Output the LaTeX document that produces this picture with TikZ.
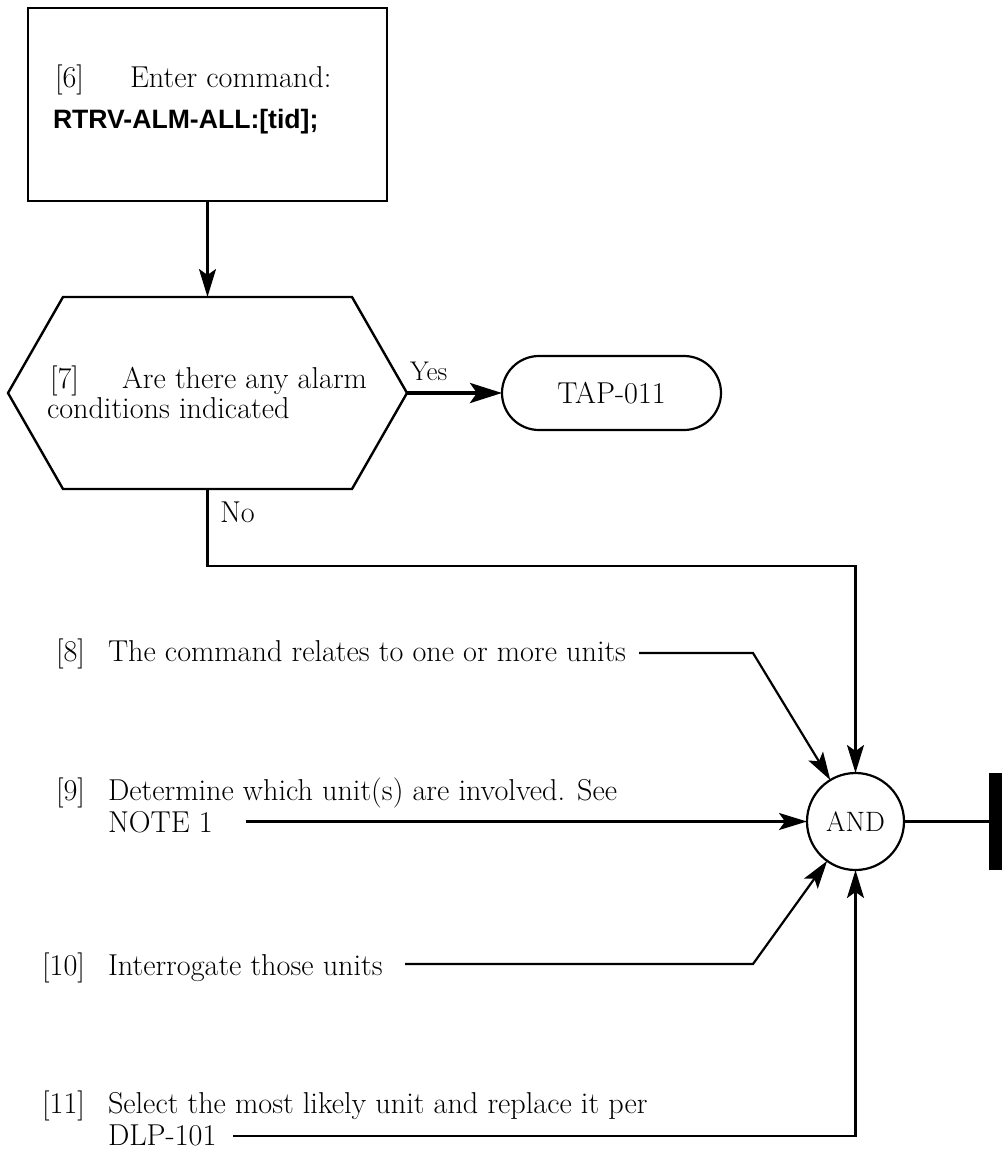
\documentclass[tikz,border=0pt]{standalone}
\usepackage{fontspec}
\newfontfamily\cmdfont{Liberation Sans}
\usetikzlibrary{arrows.meta,shapes.misc,calc}

\begin{document}
\begin{tikzpicture}[x=1pt,y=-1pt,
  every node/.style={inner sep=0pt, outer sep=0pt},
  body/.style={font=\fontsize{30.2}{33}\selectfont},
  txt/.style={body, anchor=base west},
  num/.style={body, anchor=base east},
  line/.style={line width=2.2pt},
  flow/.style={line width=2.2pt, -{Stealth[length=28pt,width=17pt,inset=6pt]}},
  bigflow/.style={line width=4pt, -{Stealth[length=32pt,width=20pt,inset=7pt]}},
  stepbox/.style={draw, line width=2.4pt, minimum width=359pt, minimum height=193pt},
  endbox/.style={draw, rounded rectangle, line width=2.2pt, body,
                 minimum width=219pt, minimum height=74pt},
  andgate/.style={draw, circle, line width=2.2pt, font=\fontsize{28}{30}\selectfont,
                  minimum size=97pt},
]
\useasboundingbox (0,0) rectangle (1002,1151);

% step 6: command box
\node[stepbox] (s6) at (207.5,104.5) {};
\node[num] (s6n) at (84,87) {[6]};
\node[txt] (s6t) at (130,87) {Enter command:};
\node[anchor=base west, font=\cmdfont\bfseries\fontsize{26.6}{30}\selectfont] (s6c) at (53,128) {RTRV-ALM-ALL:[tid];};

% step 7: decision hexagon
\node[minimum width=399pt, minimum height=192pt] (q7) at (207.5,393) {};
\draw[line width=2.4pt] (q7.west) -- ($(q7.north west)+(55,0)$) -- ($(q7.north east)+(-55,0)$)
  -- (q7.east) -- ($(q7.south east)+(-55,0)$) -- ($(q7.south west)+(55,0)$) -- cycle;
\node[num] (q7n) at (79,388) {[7]};
\node[txt] (q7a) at (122,388) {Are there any alarm};
\node[txt] (q7b) at (47,418) {conditions indicated};

\draw[flow] (s6.south) -- (q7.north);

% yes branch
\node[endbox] (tap) at (611.5,393) {TAP-011};
\draw[bigflow] (q7.east) -- (tap.west);
\node[txt, font=\fontsize{27}{30}\selectfont] (yes) at (410,380) {Yes};

% AND gate and its output
\node[andgate] (and) at (855.5,821.5) {AND};
\node[fill=black, minimum width=13pt, minimum height=97pt] (bar) at (995.5,821.5) {};
\draw[line] (and.east) -- (bar.west);

% no branch
\node[txt] (no) at (220,522) {No};
\draw[flow] (q7.south) -- ++(0,77) -| (and.north);

% step 8
\node[num] (n8) at (85,661) {[8]};
\node[txt] (t8) at (108,661) {The command relates to one or more units};
\coordinate (c8) at (639,653);
\coordinate (k8) at (753,653);
\draw[flow] (c8) -- (k8) -- (and);

% step 9
\node[num] (n9) at (85,800) {[9]};
\node[txt] (t9) at (108,800) {Determine which unit(s) are involved. See};
\node[txt] (t9b) at (108,832) {NOTE 1};
\coordinate (c9) at (246,821.5);
\draw[flow] (c9) -- (and.west);

% step 10
\node[num] (n10) at (85,975) {[10]};
\node[txt] (t10) at (108,975) {Interrogate those units};
\coordinate (c10) at (405,964);
\coordinate (k10) at (753,964);
\draw[flow] (c10) -- (k10) -- (and);

% step 11
\node[num] (n11) at (85,1113) {[11]};
\node[txt] (t11) at (108,1113) {Select the most likely unit and replace it per};
\node[txt] (t11b) at (108,1145) {DLP-101};
\coordinate (c11) at (233,1136);
\draw[flow] (c11) -| (and.south);
\end{tikzpicture}
\end{document}
